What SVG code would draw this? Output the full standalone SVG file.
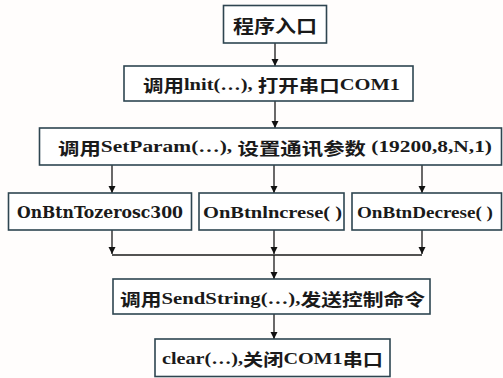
<svg xmlns="http://www.w3.org/2000/svg" width="503" height="378" viewBox="0 0 503 378">
<defs>
<marker id="ah" viewBox="0 0 10 10" refX="10" refY="5" markerWidth="7" markerHeight="9" markerUnits="userSpaceOnUse" orient="auto">
<path d="M0,0 L10,5 L0,10 z" fill="#111"/>
</marker>
</defs>
<style>
.box{fill:#fff;stroke:#2e4550;stroke-width:1.6}
.t{font-weight:bold;font-size:17px;fill:#1a1a1a;dominant-baseline:central}
.z{font-family:'Noto Sans CJK SC',sans-serif;font-weight:bold}
.c{stroke:#1a1a1a;stroke-width:1.3;fill:none}
</style>
<rect width="503" height="378" fill="#fffdfc"/>
<g id="connectors">
<line class="c" x1="275" y1="43" x2="275" y2="66" marker-end="url(#ah)"/>
<line class="c" x1="275" y1="101" x2="275" y2="128" marker-end="url(#ah)"/>
<line class="c" x1="112" y1="165" x2="112" y2="193" marker-end="url(#ah)"/>
<line class="c" x1="274" y1="165" x2="274" y2="193" marker-end="url(#ah)"/>
<line class="c" x1="422" y1="165" x2="422" y2="193" marker-end="url(#ah)"/>
<line class="c" x1="112" y1="230" x2="112" y2="254" marker-end="url(#ah)"/>
<line class="c" x1="274" y1="230" x2="274" y2="254" marker-end="url(#ah)"/>
<line class="c" x1="422" y1="230" x2="422" y2="254" marker-end="url(#ah)"/>
<line class="c" x1="112" y1="255" x2="422" y2="255"/>
<line class="c" x1="274" y1="255" x2="274" y2="279" marker-end="url(#ah)"/>
<line class="c" x1="274" y1="314" x2="274" y2="339" marker-end="url(#ah)"/>
</g>
<g id="n1">
<rect class="box" x="223.5" y="5.5" width="103" height="37.5"/>
<text class="t z" x="233" y="25" textLength="84" lengthAdjust="spacingAndGlyphs" style="font-size:18px">程序入口</text>
</g>
<g id="n2">
<rect class="box" x="124" y="66" width="289" height="35"/>
<text class="t" font-family="Liberation Serif, serif" x="143" y="84" textLength="257" lengthAdjust="spacingAndGlyphs"><tspan class="z">调用</tspan>lnit(…), <tspan class="z">打开串口</tspan>COM1</text>
</g>
<g id="n3">
<rect class="box" x="39.5" y="128" width="462" height="37"/>
<text class="t" font-family="Liberation Serif, serif" x="58" y="146.5" textLength="434" lengthAdjust="spacingAndGlyphs"><tspan class="z">调用</tspan>SetParam(…), <tspan class="z">设置通讯参数</tspan> (19200,8,N,1)</text>
</g>
<g id="n4">
<rect class="box" x="8.5" y="193" width="183" height="37"/>
<text class="t" font-family="DejaVu Serif, serif" x="17" y="212" textLength="166" lengthAdjust="spacingAndGlyphs">OnBtnTozerosc300</text>
</g>
<g id="n5">
<rect class="box" x="199" y="193" width="145" height="37"/>
<text class="t" font-family="Liberation Serif, serif" x="203" y="212" textLength="139" lengthAdjust="spacingAndGlyphs">OnBtnlncrese( )</text>
</g>
<g id="n6">
<rect class="box" x="352" y="193" width="149.5" height="37"/>
<text class="t" font-family="Liberation Serif, serif" x="357" y="212" textLength="136" lengthAdjust="spacingAndGlyphs">OnBtnDecrese( )</text>
</g>
<g id="n7">
<rect class="box" x="113" y="279" width="317" height="35"/>
<text class="t" font-family="Liberation Serif, serif" x="120" y="298" textLength="305" lengthAdjust="spacingAndGlyphs"><tspan class="z">调用</tspan>SendString(…),<tspan class="z">发送控制命令</tspan></text>
</g>
<g id="n8">
<rect class="box" x="155" y="339" width="235" height="37.5"/>
<text class="t" font-family="Liberation Serif, serif" x="162" y="358" textLength="221" lengthAdjust="spacingAndGlyphs">clear(…),<tspan class="z">关闭</tspan>COM1<tspan class="z">串口</tspan></text>
</g>
</svg>
